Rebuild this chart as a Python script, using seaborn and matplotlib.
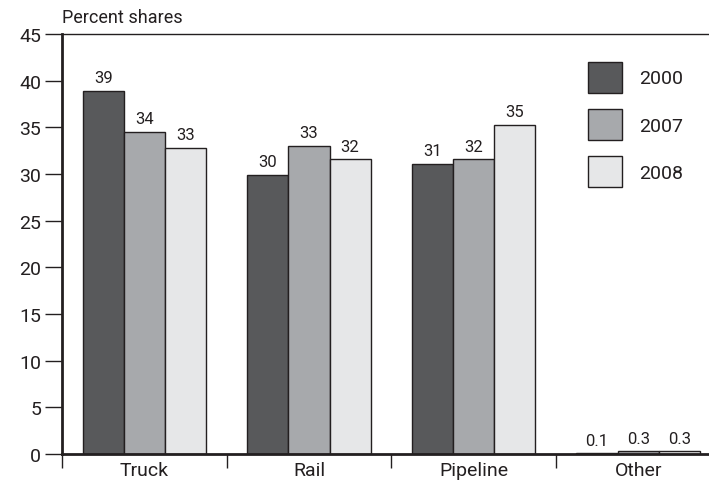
import matplotlib
matplotlib.use("Agg")
import matplotlib.pyplot as plt
import matplotlib.patches as mpatches
import pandas as pd
import seaborn as sns

# データ
modes = ["Truck", "Rail", "Pipeline", "Other"]
years = ["2000", "2007", "2008"]
shares_2000 = [38.9, 29.9, 31.1, 0.1]
shares_2007 = [34.5, 33.0, 31.6, 0.3]
shares_2008 = [32.8, 31.6, 35.3, 0.3]
labels_2000 = ["39", "30", "31", "0.1"]
labels_2007 = ["34", "33", "32", "0.3"]
labels_2008 = ["33", "32", "35", "0.3"]
y_ticks = [0, 5, 10, 15, 20, 25, 30, 35, 40, 45]

colors = ["#58595b", "#a7a9ac", "#e6e7e8"]
edge = "#231f20"

sns.set_style("white")
plt.rcParams["font.family"] = ["Roboto", "DejaVu Sans"]

df = pd.DataFrame({
    "mode": modes * 3,
    "year": [y for y in years for _ in modes],
    "share": shares_2000 + shares_2007 + shares_2008,
})

fig = plt.figure(figsize=(7.09, 4.85), dpi=100)
ax = fig.add_axes([62 / 709, 1 - 455 / 485, 1 - 62 / 709, (455 - 35) / 485])

sns.barplot(
    data=df, x="mode", y="share", hue="year", order=modes, hue_order=years,
    palette=colors, width=0.75, edgecolor=edge, linewidth=1, ax=ax,
    legend=False, saturation=1,
)

for cont, labs in zip(ax.containers, [labels_2000, labels_2007, labels_2008]):
    ax.bar_label(cont, labels=labs, padding=4, fontsize=12, color=edge)

ax.set_xlim(-0.5, 3.43)
ax.set_ylim(0, 45)
ax.set_yticks(y_ticks)
ax.tick_params(axis="y", direction="out", length=12, width=1, labelsize=14,
               color=edge, labelcolor=edge, left=True, pad=3)

# カテゴリ境界に目盛り、中央にラベル
ax.set_xticks([-0.5, 0.5, 1.5, 2.5])
ax.set_xticklabels([])
ax.set_xticks(range(len(modes)), minor=True)
ax.set_xticklabels(modes, minor=True)
ax.tick_params(axis="x", which="major", direction="out", length=10, width=1,
               color=edge, bottom=True)
ax.tick_params(axis="x", which="minor", length=0, labelsize=14,
               labelcolor=edge, pad=5)
ax.set_xlabel("")
ax.set_ylabel("")

ax.spines["right"].set_visible(False)
ax.spines["left"].set_linewidth(2)
ax.spines["bottom"].set_linewidth(2)
ax.spines["top"].set_linewidth(1)
for s in ["left", "bottom", "top"]:
    ax.spines[s].set_color(edge)

fig.text(62 / 709, 1 - 18 / 485, "Percent shares", fontsize=13, color=edge,
         ha="left", va="center")

handles = [mpatches.Patch(facecolor=c, edgecolor=edge, linewidth=1) for c in colors]
ax.legend(
    handles, years, loc="upper left", bbox_to_anchor=(588 / 709, 1 - 63 / 485),
    bbox_transform=fig.transFigure, frameon=False, fontsize=14,
    handlelength=1.75, handleheight=2.05, labelspacing=0.85, handletextpad=0.9,
    borderpad=0, borderaxespad=0, labelcolor=edge,
)

fig.savefig("out.png", dpi=100)
